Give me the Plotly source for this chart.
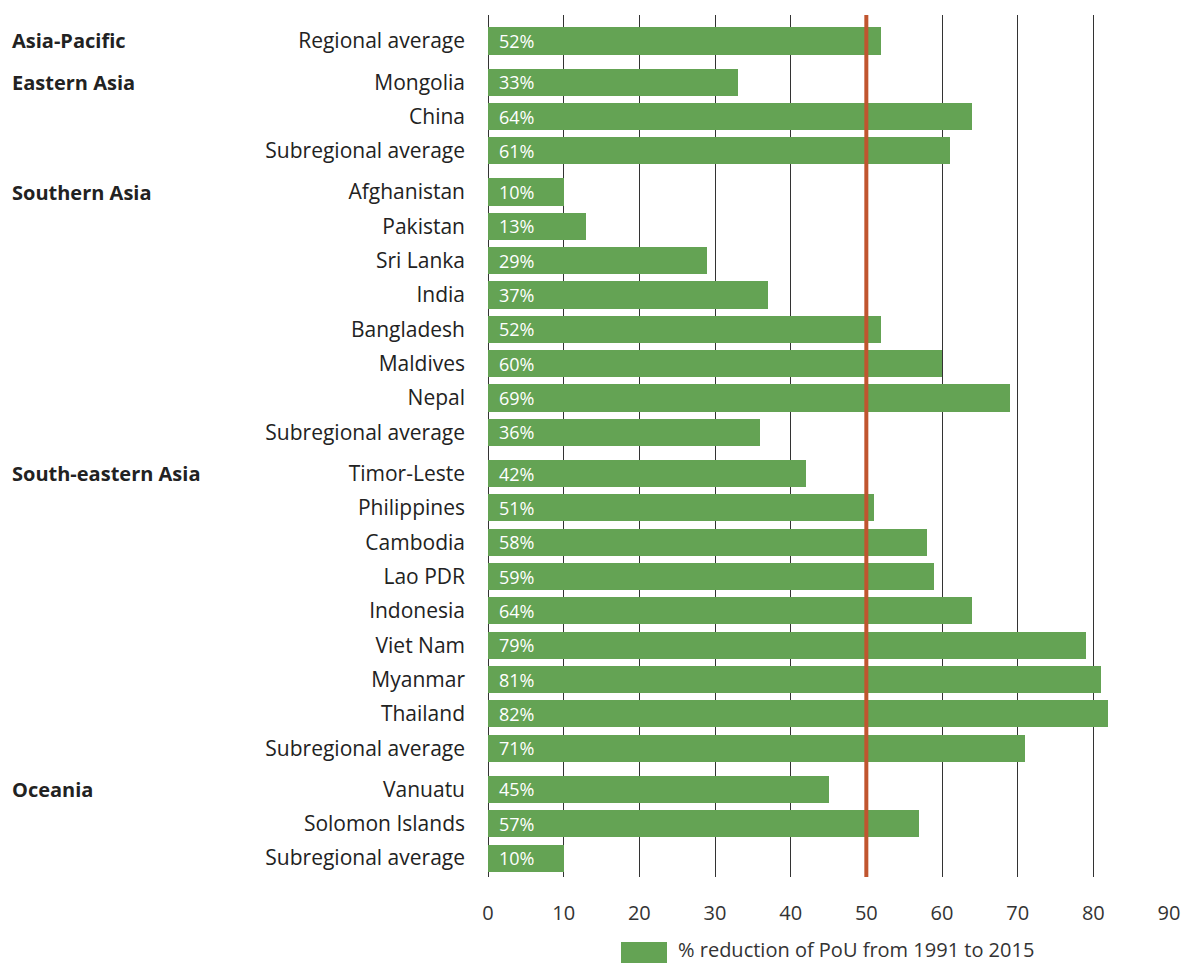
import plotly.graph_objects as go

groups = ["Asia-Pacific", "Eastern Asia", "Southern Asia", "South-eastern Asia", "Oceania"]
group_members = [
    ["Regional average"],
    ["Mongolia", "China", "Subregional average"],
    ["Afghanistan", "Pakistan", "Sri Lanka", "India", "Bangladesh", "Maldives", "Nepal", "Subregional average"],
    ["Timor-Leste", "Philippines", "Cambodia", "Lao PDR", "Indonesia", "Viet Nam", "Myanmar", "Thailand", "Subregional average"],
    ["Vanuatu", "Solomon Islands", "Subregional average"],
]
group_values = [
    [52],
    [33, 64, 61],
    [10, 13, 29, 37, 52, 60, 69, 36],
    [42, 51, 58, 59, 64, 79, 81, 82, 71],
    [45, 57, 10],
]
target = 50
legend_label = "% reduction of PoU from 1991 to 2015"
x_ticks = [0, 10, 20, 30, 40, 50, 60, 70, 80, 90]

GROUP_GAP = 0.2
ys, labels, vals, group_y = [], [], [], []
pos = 0.0
for gi, (mem, v) in enumerate(zip(group_members, group_values)):
    if gi > 0:
        pos += GROUP_GAP
    group_y.append(pos)
    for m, val in zip(mem, v):
        ys.append(pos)
        labels.append(m)
        vals.append(val)
        pos += 1
last = ys[-1]

GREEN = "#64a354"
RED = "#c0552f"
FONT = "Open Sans"

fig = go.Figure()
fig.add_trace(go.Bar(
    x=vals, y=ys, orientation="h", width=0.79,
    marker=dict(color=GREEN, line=dict(width=0)),
    showlegend=False, hoverinfo="skip",
))

ann = []
for y, v in zip(ys, vals):
    ann.append(dict(x=0, y=y, xref="x", yref="y", text=f"{v}%", showarrow=False,
                    xanchor="left", yanchor="middle", xshift=9,
                    font=dict(family=FONT, size=18, color="white")))

L, R, T, B = 488, 15, 15, 86
W, H = 1184, 963
pw = W - L - R
for g, gy in zip(groups, group_y):
    ann.append(dict(x=(10 - L) / pw, y=gy, xref="paper", yref="y", text=f"<b>{g}</b>",
                    showarrow=False, xanchor="left", yanchor="middle",
                    font=dict(family=FONT, size=20, color="#222")))

# legend
ph = H - T - B
lx0 = (621 - L) / pw
lx1 = (667 - L) / pw
ly0 = -(942 - (H - B)) / ph
ly1 = -(964 - (H - B)) / ph
shapes = [
    dict(type="line", x0=target, x1=target, xref="x", y0=0, y1=1, yref="paper",
         line=dict(color=RED, width=4), layer="above"),
    dict(type="rect", x0=lx0, x1=lx1, y0=ly0, y1=ly1, xref="paper", yref="paper",
         fillcolor=GREEN, line=dict(width=0)),
]
ann.append(dict(x=(676 - L) / pw, y=-(950 - (H - B)) / ph, xref="paper", yref="paper",
                text=legend_label, showarrow=False, xanchor="left", yanchor="middle",
                font=dict(family=FONT, size=20, color="#333")))

fig.update_layout(
    width=W, height=H,
    margin=dict(l=L, r=R, t=T, b=B, pad=0, autoexpand=False),
    plot_bgcolor="white", paper_bgcolor="white",
    font=dict(family=FONT, size=18, color="#222"),
    annotations=ann, shapes=shapes,
    xaxis=dict(range=[0, 90], tickvals=x_ticks, showgrid=True, gridcolor="#333",
               gridwidth=1, zeroline=True, zerolinecolor="#333", zerolinewidth=1,
               showline=False, ticks="", ticklabelstandoff=22, automargin=False,
               tickfont=dict(family=FONT, size=20, color="#333")),
    yaxis=dict(range=[last + 0.55, -0.757], tickvals=ys, ticktext=labels,
               showgrid=False, zeroline=False, showline=False, ticks="",
               automargin=False,
               ticklabelstandoff=22, tickfont=dict(family=FONT, size=21, color="#222")),
    bargap=0,
)
fig.write_html("out.html")
